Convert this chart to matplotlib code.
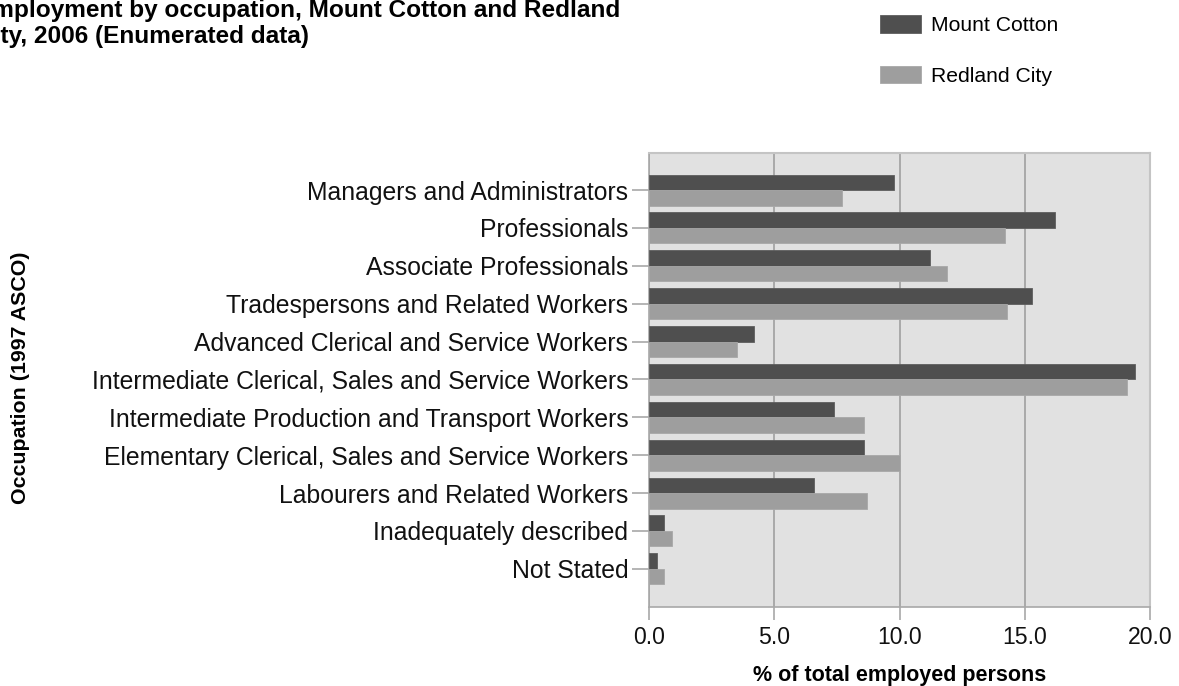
import numpy as np
import matplotlib
matplotlib.use("Agg")
import matplotlib.pyplot as plt

plt.rcParams['font.family'] = ['Liberation Sans', 'DejaVu Sans']

# occupation categories (top to bottom)
occupations = [
    "Managers and Administrators",
    "Professionals",
    "Associate Professionals",
    "Tradespersons and Related Workers",
    "Advanced Clerical and Service Workers",
    "Intermediate Clerical, Sales and Service Workers",
    "Intermediate Production and Transport Workers",
    "Elementary Clerical, Sales and Service Workers",
    "Labourers and Related Workers",
    "Inadequately described",
    "Not Stated",
]
mount_cotton = [9.8, 16.2, 11.2, 15.3, 4.2, 19.4, 7.4, 8.6, 6.6, 0.6, 0.3]
redland_city = [7.7, 14.2, 11.9, 14.3, 3.5, 19.1, 8.6, 10.0, 8.7, 0.9, 0.6]
xticks = [0.0, 5.0, 10.0, 15.0, 20.0]

W, H = 1179, 686
fig = plt.figure(figsize=(W / 100, H / 100), dpi=100)
ax = fig.add_axes([649 / W, (H - 607) / H, (1150 - 649) / W, (607 - 153) / H])
ax.set_facecolor('#e1e1e1')

y = np.arange(len(occupations))
bh = 0.41
b1 = ax.barh(y - bh / 2, mount_cotton, height=bh, color='#4f4f4f',
             edgecolor='#5e5e5e', linewidth=0.6, label='Mount Cotton', zorder=3)
b2 = ax.barh(y + bh / 2, redland_city, height=bh, color='#9e9e9e',
             edgecolor='#a8a8a8', linewidth=0.6, label='Redland City', zorder=3)

ax.set_xlim(0, 20)
ax.set_ylim(len(occupations) - 1 + 1.01, -0.98)
ax.set_xticks(xticks)
ax.set_xticklabels([f"{v:.1f}" for v in xticks], fontsize=16.6, color='#111111')
ax.set_yticks(y)
ax.set_yticklabels(occupations, fontsize=17.85, color='#111111')
ax.tick_params(axis='y', length=12, color='#a8a8a8', width=1.2, pad=3)
ax.tick_params(axis='x', length=9, color='#a8a8a8', width=1.2, pad=5)

ax.grid(axis='x', color='#a0a0a0', linewidth=1.2, zorder=1)
ax.set_axisbelow(True)
for s in ['top', 'right']:
    ax.spines[s].set_color('#c4c4c4')
    ax.spines[s].set_linewidth(1.5)
for s in ['left', 'bottom']:
    ax.spines[s].set_color('#a8a8a8')
    ax.spines[s].set_linewidth(1.2)

ax.set_xlabel('% of total employed persons', fontsize=15.5, fontweight='bold',
              labelpad=11)
fig.text(21 / W, 1 - 378 / H, 'Occupation (1997 ASCO)', fontsize=15.4,
         fontweight='bold', rotation=90, ha='center', va='center')

# title, cut off at the left edge like the source
fig.text(-24 / W, 1 - 17 / H, 'Employment by occupation, Mount Cotton and Redland',
         fontsize=17.6, fontweight='bold', ha='left', va='baseline')
fig.text(-24 / W, 1 - 43 / H, 'City, 2006 (Enumerated data)',
         fontsize=17.6, fontweight='bold', ha='left', va='baseline')

fig.legend(handles=[b1, b2], loc='upper left',
           bbox_to_anchor=(880 / W, 1 - 15 / H), frameon=False,
           fontsize=15.2, handlelength=1.95, handleheight=0.9,
           handletextpad=0.45, labelspacing=1.45, borderpad=0, borderaxespad=0)

fig.savefig('out.png', dpi=100)
